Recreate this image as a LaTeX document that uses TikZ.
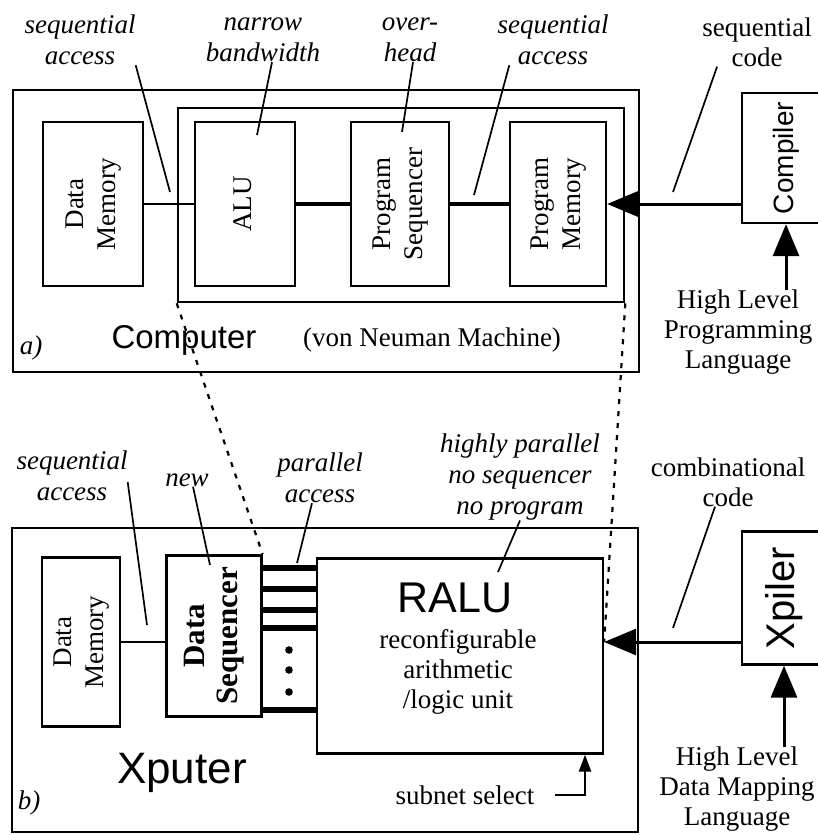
\documentclass[tikz,border=0pt]{standalone}
\usepackage{fontspec}
\setmainfont{Liberation Serif}
\setsansfont{Liberation Sans}
\usetikzlibrary{arrows.meta,positioning}
\newcommand{\vtxt}[1]{\rotatebox{90}{\begin{tabular}{@{}c@{}}#1\end{tabular}}}

\begin{document}
\begin{tikzpicture}[x=1pt,y=-1pt,
  box/.style={draw, line width=2.3pt, inner sep=0pt, font=\fontsize{27}{32}\selectfont},
  frame/.style={draw, line width=2.6pt, inner sep=0pt},
  lbl/.style={font=\fontsize{27}{31}\selectfont\itshape, align=center, inner sep=0pt},
  txt/.style={font=\fontsize{27}{30}\selectfont, align=center, inner sep=0pt},
  big/.style={font=\fontsize{#1}{#1}\selectfont\sffamily, inner sep=0pt},
  lead/.style={line width=1.7pt},
  link/.style={line width=4pt},
  bus/.style={line width=6.5pt},
  dots/.style={line width=2.2pt, dash pattern=on 5pt off 7pt},
  tip/.style={-{Triangle[length=32pt,width=26pt]}, line width=3pt},
  sel/.style={-{Triangle[length=17pt,width=12pt]}, line width=2.4pt}]
\useasboundingbox (0,0) rectangle (818,835);
\clip (0,0) rectangle (818,835);
\node[frame, minimum width=626, minimum height=282] (cmp) at (326,231) {};
\node[frame, minimum width=446, minimum height=194] (vn) at (401,205) {};
\node[box, minimum width=100, minimum height=164] (dmA) at (93,204) {\vtxt{Data\\Memory}};
\node[box, minimum width=100, minimum height=164] (alu) at (245,204) {\vtxt{ALU}};
\node[box, minimum width=98, minimum height=164] (pseq) at (400,204) {\vtxt{Program\\Sequencer}};
\node[box, minimum width=96, minimum height=164] (pmem) at (558,204) {\vtxt{Program\\Memory}};
\node[box, minimum width=88, minimum height=130, font=\fontsize{28}{30}\selectfont\sffamily] (cpl) at (786,158) {\rotatebox{90}{Compiler}};
\node[txt] (hll) at (738,332) {High Level\\Programming\\Language};
\node[big=33] (cpt) at (184,340) {Computer};
\node[txt] (vnm) at (432,340) {(von Neuman Machine)};
\node[lbl] (la) at (31,348) {a)};
\draw[line width=1.8pt] (dmA) -- (alu);
\draw[link] (alu) -- (pseq);
\draw[link] (pseq) -- (pmem);
\draw[tip] (cpl.west |- pmem.east) -- (pmem.east);
\draw[tip] (cpl.south |- hll.north) -- (cpl.south);
\node[lbl] (sa1) at (80,40) {sequential\\access};
\node[lbl] (nb) at (263,40) {narrow\\bandwidth};
\node[lbl] (oh) at (410,40) {over-\\head};
\node[lbl] (sa2) at (553,40) {sequential\\access};
\node[txt] (sc) at (757,42) {sequential\\code};
\coordinate (e1) at (170,192); \coordinate (e2) at (257,135); \coordinate (e3) at (402,132);
\coordinate (e4) at (474,195); \coordinate (e5) at (673,192);
\draw[lead] (sa1.south east) -- (e1);
\draw[lead] ([xshift=9pt]nb.south) -- (e2);
\draw[lead] ([xshift=3pt]oh.south) -- (e3);
\draw[lead] ([xshift=12pt]sa2.south west) -- (e4);
\draw[lead] ([xshift=15pt]sc.south west) -- (e5);
\node[frame, minimum width=626, minimum height=304] (xpt) at (325,680) {};
\node[box, minimum width=78, minimum height=169] (dmB) at (81,642) {\vtxt{Data\\Memory}};
\node[box, minimum width=95, minimum height=161, font=\fontsize{31}{33}\selectfont\bfseries] (dsq) at (214,636) {\vtxt{Data\\Sequencer}};
\node[box, minimum width=286, minimum height=195] (ralu) at (460,656) {};
\node[big=43] (rl) at (455,598) {RALU};
\node[txt] (rat) at (458,672) {reconfigurable\\arithmetic\\/logic unit};
\node[box, minimum width=84, minimum height=133, font=\fontsize{40}{40}\selectfont\sffamily] (xpl) at (784,598) {\rotatebox{90}{Xpiler}};
\node[txt] (hdl) at (737,789) {High Level\\Data Mapping\\Language};
\node[txt] (ss) at (465,795) {subnet select};
\node[big=44] (xpu) at (182,773) {Xputer};
\node[lbl] (lb) at (29,803) {b)};
\draw[line width=1.8pt] (dmB.east) -- (dmB.east -| dsq.west);
\foreach \y in {568,589,610,628,710} \draw[bus] (dsq.east |- 0,\y) -- (ralu.west |- 0,\y);
\foreach \y in {650,670,692} \fill (289,\y) circle (3.8pt);
\coordinate (rin) at ([yshift=14pt]ralu.east);
\draw[tip] (xpl.west |- rin) -- (rin);
\draw[tip] (xpl.south |- hdl.north) -- (xpl.south);
\draw[sel] ([xshift=20pt]ss.east) -| ([xshift=125pt]ralu.south);
\node[lbl] (sa3) at (72,476) {sequential\\access};
\node[lbl] (nw) at (187,480) {new};
\node[lbl] (pa) at (320,478) {parallel\\access};
\node[lbl] (hp) at (520,477) {highly parallel\\no sequencer\\no program};
\node[txt] (cc) at (728,482) {combinational\\code};
\coordinate (f1) at (147,625); \coordinate (f2) at (210,565); \coordinate (f3) at (297,563);
\coordinate (f4) at (498,572); \coordinate (f5) at (673,628);
\draw[lead] ([yshift=-6pt]sa3.east) -- (f1);
\draw[lead] ([xshift=6pt]nw.south) -- (f2);
\draw[lead] ([xshift=-8pt]pa.south) -- (f3);
\draw[lead] (hp.south) -- (f4);
\draw[lead] ([xshift=-13pt]cc.south) -- (f5);
\draw[dots] (vn.south west) -- (dsq.north east);
\draw[dots] (vn.south east) -- (rin);
\end{tikzpicture}
\end{document}
